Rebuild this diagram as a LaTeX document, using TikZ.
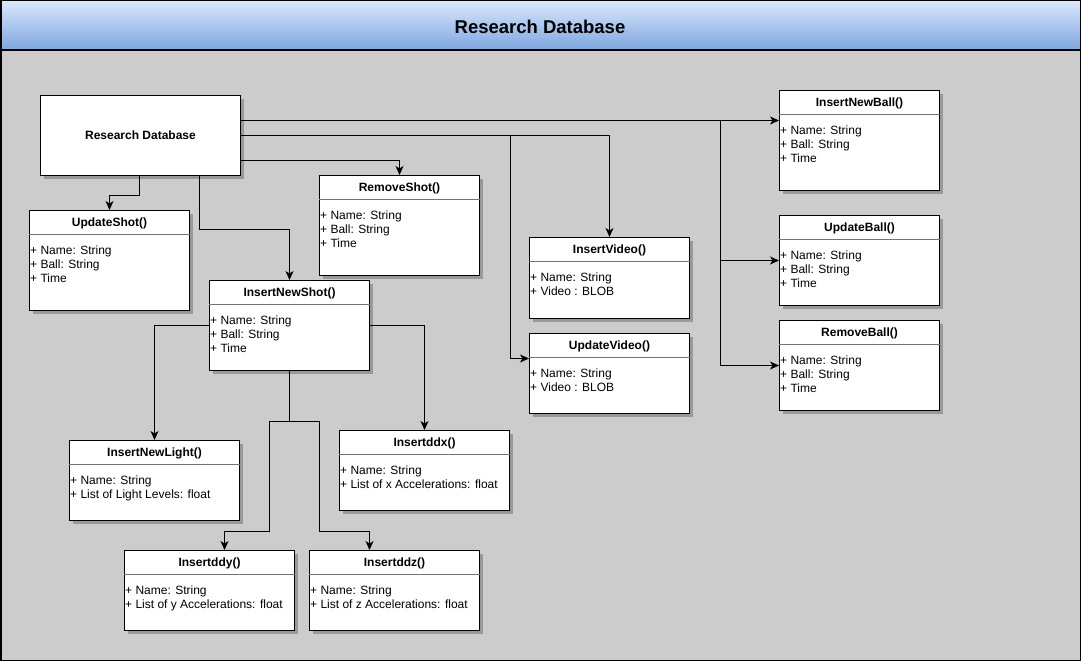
\documentclass[tikz,border=0pt]{standalone}
\usepackage{fontspec}
\setmainfont{Liberation Sans}
\usetikzlibrary{arrows.meta,shadows,calc}
\definecolor{bggray}{HTML}{CCCCCC}
\definecolor{hdtop}{HTML}{DAE8FC}
\definecolor{hdbot}{HTML}{7EA6E0}
\tikzset{
  clsbox/.style={draw=black, line width=1pt, fill=white, anchor=north west, inner sep=0pt,
    drop shadow={shadow xshift=3pt, shadow yshift=-3pt, fill=black!40, opacity=1}},
  sepline/.style={draw=black!55, line width=0.8pt},
  clstitle/.style={anchor=base, inner sep=0pt, font=\fontsize{12}{14}\selectfont\bfseries},
  clsattr/.style={anchor=base west, inner sep=0pt, font=\fontsize{12}{14}\selectfont},
  conn/.style={draw=black, line width=1pt, -{Stealth[length=9pt,width=8pt,inset=2.5pt]}},
}
\newcommand{\umlcls}[7]{%
  \node[clsbox, minimum width=#4pt, minimum height=#5pt] (#1) at (#2,#3) {};
  \draw[sepline] ($(#1.north west)+(0,24)$) -- ($(#1.north east)+(0,24)$);
  \node[clstitle] (#1-t) at ($(#1.north)+(0,16)$) {#6};
  \foreach \ln [count=\i from 0] in {#7} {
    \node[clsattr] (#1-a\i) at ($(#1.north west)+(1,44.5+14*\i)$) {\ln};
  }
}
\begin{document}
\begin{tikzpicture}[x=1pt,y=-1pt]
\useasboundingbox (0,0) rectangle (1081,661);
% background and header
\fill[bggray] (0.75,0.75) rectangle (1080.25,660.25);
\shade[top color=hdtop, bottom color=hdbot] (0.75,0.75) rectangle (1080.25,50);
\draw[line width=1.5pt] (0.75,50) -- (1080.25,50);
\draw[line width=1.5pt] (0.75,0.75) rectangle (1080.25,660.25);
\node[inner sep=0pt, font=\fontsize{18.5}{22}\selectfont\bfseries] (hdr) at (540,27) {Research Database};

% main box
\node[clsbox, minimum width=200pt, minimum height=80pt] (rd) at (40,95) {};
\node[inner sep=0pt, font=\fontsize{12}{14}\selectfont\bfseries] (rd-t) at (rd.center) {Research Database};

\umlcls{us}{29}{210}{160}{100}{UpdateShot()}{+ Name: String,+ Ball: String,+ Time}
\umlcls{rs}{319}{175}{160}{100}{RemoveShot()}{+ Name: String,+ Ball: String,+ Time}
\umlcls{ins}{209}{280}{160}{90}{InsertNewShot()}{+ Name: String,+ Ball: String,+ Time}
\umlcls{iv}{529}{237}{160}{81}{InsertVideo()}{+ Name: String,+ Video : BLOB}
\umlcls{uv}{529}{333}{160}{80}{UpdateVideo()}{+ Name: String,+ Video : BLOB}
\umlcls{inb}{779}{90}{160}{100}{InsertNewBall()}{+ Name: String,+ Ball: String,+ Time}
\umlcls{ub}{779}{215}{160}{90}{UpdateBall()}{+ Name: String,+ Ball: String,+ Time}
\umlcls{rb}{779}{320}{160}{90}{RemoveBall()}{+ Name: String,+ Ball: String,+ Time}
\umlcls{inl}{69}{440}{170}{80}{InsertNewLight()}{+ Name: String,+ List of Light Levels: float}
\umlcls{ddx}{339}{430}{170}{80}{Insertddx()}{+ Name: String,+ List of x Accelerations: float}
\umlcls{ddy}{124}{550}{170}{80}{Insertddy()}{+ Name: String,+ List of y Accelerations: float}
\umlcls{ddz}{309}{550}{170}{80}{Insertddz()}{+ Name: String,+ List of z Accelerations: float}

% connectors from Research Database
\coordinate (e120) at ($(rd.east)+(0,-15)$);
\coordinate (e160) at ($(rd.east)+(0,25)$);
\draw[conn] ($(rd.south)+(-1,0)$) -- ++(0,19) -| (us.north);
\draw[conn] ($(rd.south)+(59,0)$) -- ++(0,53) -| (ins.north);
\draw[conn] (e160) -| (rs.north);
\draw[conn] (e120) -- (e120 -| inb.west);
\draw[conn] (rd.east) -| (iv.north);
\draw[conn] (rd.east) -- ++(269,0) |- ($(uv.west)+(0,-15)$);
\draw[conn] (e120) -- ++(479,0) |- (ub.west);
\draw[conn] (e120) -- ++(479,0) |- (rb.west);

% connectors from InsertNewShot
\draw[conn] (ins.west) -| (inl.north);
\draw[conn] (ins.east) -| (ddx.north);
\draw[conn] (ins.south) -- ++(0,50) -- ++(-20,0) -- ++(0,110) -| ($(ddy.north)+(15,0)$);
\draw[conn] (ins.south) -- ++(0,50) -- ++(30,0) -- ++(0,110) -| ($(ddz.north)+(-25,0)$);
\end{tikzpicture}
\end{document}
